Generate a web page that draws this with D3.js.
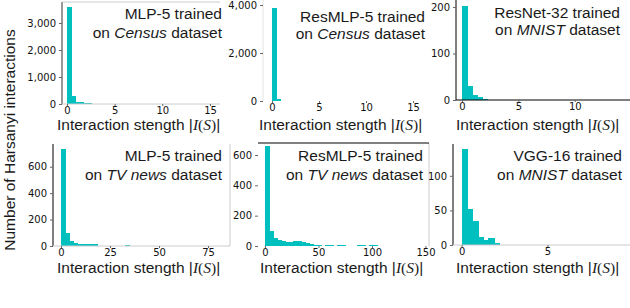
<!DOCTYPE html>
<html>
<head>
<meta charset="utf-8">
<script src="https://cdn.jsdelivr.net/npm/d3@7"></script>
<style>
  body { margin: 0; background: #fff; }
  svg { display: block; }
  .tick text { font-family: "DejaVu Sans", sans-serif; font-size: 10px; fill: #111; }
  .tick line { stroke: #666; }
  .title, .xlab, .ylab { font-family: "Liberation Sans", Arial, sans-serif; fill: #1a1a1a; }
</style>
</head>
<body>
<div id="chart"></div>
<script>
// values
const models   = ["MLP-5", "ResMLP-5", "ResNet-32", "MLP-5", "ResMLP-5", "VGG-16"];
const datasets = ["Census", "Census", "MNIST", "TV news", "TV news", "MNIST"];
const binWidths = [0.42, 0.43, 0.44, 2.04, 3.74, 0.31];

const countsMlpCensus    = [3590, 300, 65, 60, 25, 25, 5];
const countsResmlpCensus = [3875, 80, 20, 20, 15];
const countsResnetMnist  = [203, 30, 11, 6, 2];
const countsMlpTv        = [734, 96, 38, 23, 18, 13, 15, 15, 15, 0, 0, 0, 0, 0, 0, 0, 8];
const countsResmlpTv     = [658, 102, 56, 40, 33, 29, 29, 33, 33, 24, 18, 11, 7, 5, 3, 4, 4, 0, 4, 4, 0, 0, 0, 4, 4, 0, 4, 4, 2];
const countsVggMnist     = [139, 52, 34, 12, 7, 10, 3];
const allCounts = [countsMlpCensus, countsResmlpCensus, countsResnetMnist, countsMlpTv, countsResmlpTv, countsVggMnist];

const xTicks = [[0, 5, 10, 15], [0, 5, 10, 15], [0, 5, 10], [0, 25, 50, 75], [0, 50, 100, 150], [0, 5]];
const yTicks = [[0, 1000, 2000, 3000], [0, 2000, 4000], [0, 100, 200], [0, 200, 400, 600], [0, 200, 400, 600], [0, 50, 100]];

// panel boxes (pixels) and the axis extents they show
const layout = [
  {l: 62,  r: 220, t: 2,   b: 104, xd: [-0.52, 16.05], ymax: 3778, tb: [19, 38],   titleX: 222, xlabY: 130, xlabX: 57,
   frame: {left: "#333", top: "#ccc", bottom: "#ccc"}},
  {l: 263, r: 430, t: 0,   b: 101, xd: [-0.96, 16.8],  ymax: 4208, tb: [22, 39],   titleX: 425, xlabY: 130, xlabX: 259,
   frame: {left: "#e2e2e2"}},
  {l: 456, r: 630, t: 0,   b: 100, xd: [-0.53, 14.9],  ymax: 215,  tb: [18, 35],   titleX: 620, xlabY: 130, xlabX: 456,
   frame: {left: "#000", bottom: "#000"}},
  {l: 53,  r: 230, t: 144, b: 246, xd: [-4.1, 86.2],   ymax: 772,  tb: [161, 180], titleX: 222, xlabY: 273, xlabX: 57,
   frame: {left: "#000", bottom: "#ccc", right: "#ccc"}},
  {l: 258, r: 429, t: 143, b: 246, xd: [-6.5, 153.3],  ymax: 679,  tb: [161, 180], titleX: 423, xlabY: 273, xlabX: 260,
   frame: {top: "#000", right: "#ccc"}},
  {l: 453, r: 630, t: 144, b: 245, xd: [-0.5, 9.8],    ymax: 146,  tb: [161, 180], titleX: 622, xlabY: 273, xlabX: 456,
   frame: {left: "#000", bottom: "#ccc"}}
];

const W = 630, H = 308;
const barColor = "#00BFBF";

const svg = d3.select("#chart").append("svg").attr("width", W).attr("height", H);

layout.forEach(function(p, i) {
  const x = d3.scaleLinear().domain(p.xd).range([p.l, p.r]);
  const y = d3.scaleLinear().domain([0, p.ymax]).range([p.b, p.t]);
  const g = svg.append("g");
  const bw = binWidths[i];

  // bars overlap by a pixel so no seams show between neighbours
  g.append("g").attr("shape-rendering", "crispEdges")
    .selectAll("rect")
    .data(allCounts[i])
    .enter().append("rect")
    .attr("x", (d, k) => Math.round(x(k * bw)))
    .attr("width", (d, k) => Math.round(x((k + 1) * bw)) - Math.round(x(k * bw)) + 1)
    .attr("y", d => y(d))
    .attr("height", d => y(0) - y(d))
    .attr("fill", barColor);

  // frame lines
  const f = p.frame;
  if (f.left)   g.append("line").attr("x1", p.l).attr("x2", p.l).attr("y1", p.t).attr("y2", p.b).attr("stroke", f.left);
  if (f.right)  g.append("line").attr("x1", p.r).attr("x2", p.r).attr("y1", p.t).attr("y2", p.b).attr("stroke", f.right);
  if (f.top)    g.append("line").attr("x1", p.l).attr("x2", p.r).attr("y1", p.t).attr("y2", p.t).attr("stroke", f.top);
  if (f.bottom) g.append("line").attr("x1", p.l).attr("x2", p.r).attr("y1", p.b).attr("y2", p.b).attr("stroke", f.bottom);

  const yAxis = g.append("g").attr("transform", "translate(" + p.l + ",0)")
    .call(d3.axisLeft(y).tickValues(yTicks[i]).tickSize(3).tickPadding(3).tickFormat(d3.format(",")));
  yAxis.select(".domain").remove();

  const xAxis = g.append("g").attr("transform", "translate(0," + p.b + ")")
    .call(d3.axisBottom(x).tickValues(xTicks[i]).tickSize(2).tickPadding(1).tickFormat(d3.format("d")));
  xAxis.select(".domain").remove();

  // title, two lines, right aligned
  g.append("text").attr("class", "title").attr("x", p.titleX).attr("y", p.tb[0])
    .attr("text-anchor", "end").attr("font-size", 15.5).text(models[i] + " trained");
  const t2 = g.append("text").attr("class", "title").attr("x", p.titleX).attr("y", p.tb[1])
    .attr("text-anchor", "end").attr("font-size", 15.5);
  t2.append("tspan").text("on ");
  t2.append("tspan").attr("font-style", "italic").text(datasets[i]);
  t2.append("tspan").text(" dataset");

  // x label with math part
  const xl = g.append("text").attr("class", "xlab").attr("x", p.xlabX).attr("y", p.xlabY).attr("font-size", 15.5);
  xl.append("tspan").text("Interaction stength |");
  xl.append("tspan").attr("font-family", "Liberation Serif, serif").attr("font-style", "italic").text("I");
  xl.append("tspan").attr("font-family", "Liberation Serif, serif").text("(");
  xl.append("tspan").attr("font-family", "Liberation Serif, serif").attr("font-style", "italic").text("S");
  xl.append("tspan").attr("font-family", "Liberation Serif, serif").text(")");
  xl.append("tspan").text("|");
});

svg.append("text").attr("class", "ylab")
  .attr("transform", "translate(15,140) rotate(-90)")
  .attr("text-anchor", "middle").attr("font-size", 15.5)
  .text("Number of Harsanyi interactions");
</script>
</body>
</html>
